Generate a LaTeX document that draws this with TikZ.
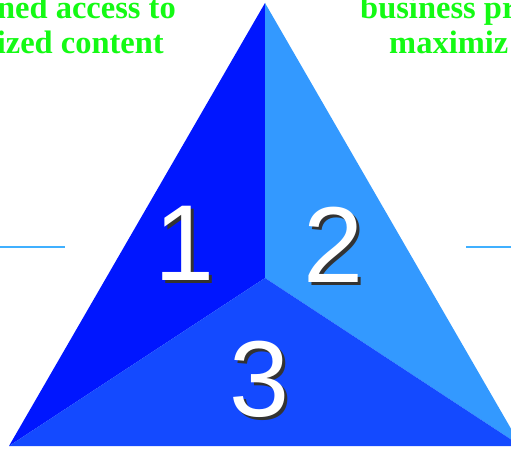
\documentclass[tikz,border=0pt]{standalone}
\usepackage{fontspec}
\setmainfont{Liberation Serif}
\newfontfamily\digitfont{Liberation Sans}
\usepackage{xcolor}

\definecolor{leftblue}{RGB}{0,22,255}
\definecolor{rightblue}{RGB}{51,153,255}
\definecolor{bottomblue}{RGB}{20,74,255}
\definecolor{linkblue}{RGB}{64,176,255}
\definecolor{captiongreen}{RGB}{20,250,20}
\definecolor{shadowgray}{RGB}{51,51,51}

\begin{document}
\begin{tikzpicture}[
    x=1pt,y=-1pt,
    caption/.style={inner sep=0pt,font=\bfseries\fontsize{32.5}{35}\selectfont\color{captiongreen}},
    numeral/.style={inner sep=0pt,anchor=base,font=\digitfont\fontsize{108}{108}\selectfont,text=white},
    numshadow/.style={numeral,text=shadowgray},
    sideline/.style={draw=linkblue,line width=2pt},
  ]

  \useasboundingbox (0,0) rectangle (511,449);
  \clip (0,0) rectangle (511,449);

  \coordinate (apex) at (265,3);
  \coordinate (centre) at (265,278);
  \coordinate (bl) at (9,446);
  \coordinate (br) at (521,446);

  % faces
  \fill[leftblue] (apex) -- (centre) -- (bl) -- cycle;
  \fill[rightblue] (apex) -- (br) -- (centre) -- cycle;
  \fill[bottomblue] (centre) -- (br) -- (bl) -- cycle;

  % numbers
  \foreach \name/\num/\x/\y in {one/1/185/280,two/2/334/282,three/3/260/416}{
    \node[numshadow] (\name-s) at (\x+3,\y+3) {\num};
    \node[numeral] (\name) at (\x,\y) {\num};
  }

  % side lines
  \coordinate (l1) at (0,247);
  \coordinate (l2) at (65,247);
  \coordinate (r1) at (466,247);
  \coordinate (r2) at (511,247);
  \draw[sideline] (l1) -- (l2);
  \draw[sideline] (r1) -- (r2);

  % captions
  \node[caption,anchor=base east] (access) at (176,19) {ned access to};
  \node[caption,anchor=base east] (content) at (164,54) {ized content};
  \node[caption,anchor=base west] (business) at (360,19) {business pr};
  \node[caption,anchor=base west] (maximize) at (389,54) {maximiz};
\end{tikzpicture}
\end{document}
